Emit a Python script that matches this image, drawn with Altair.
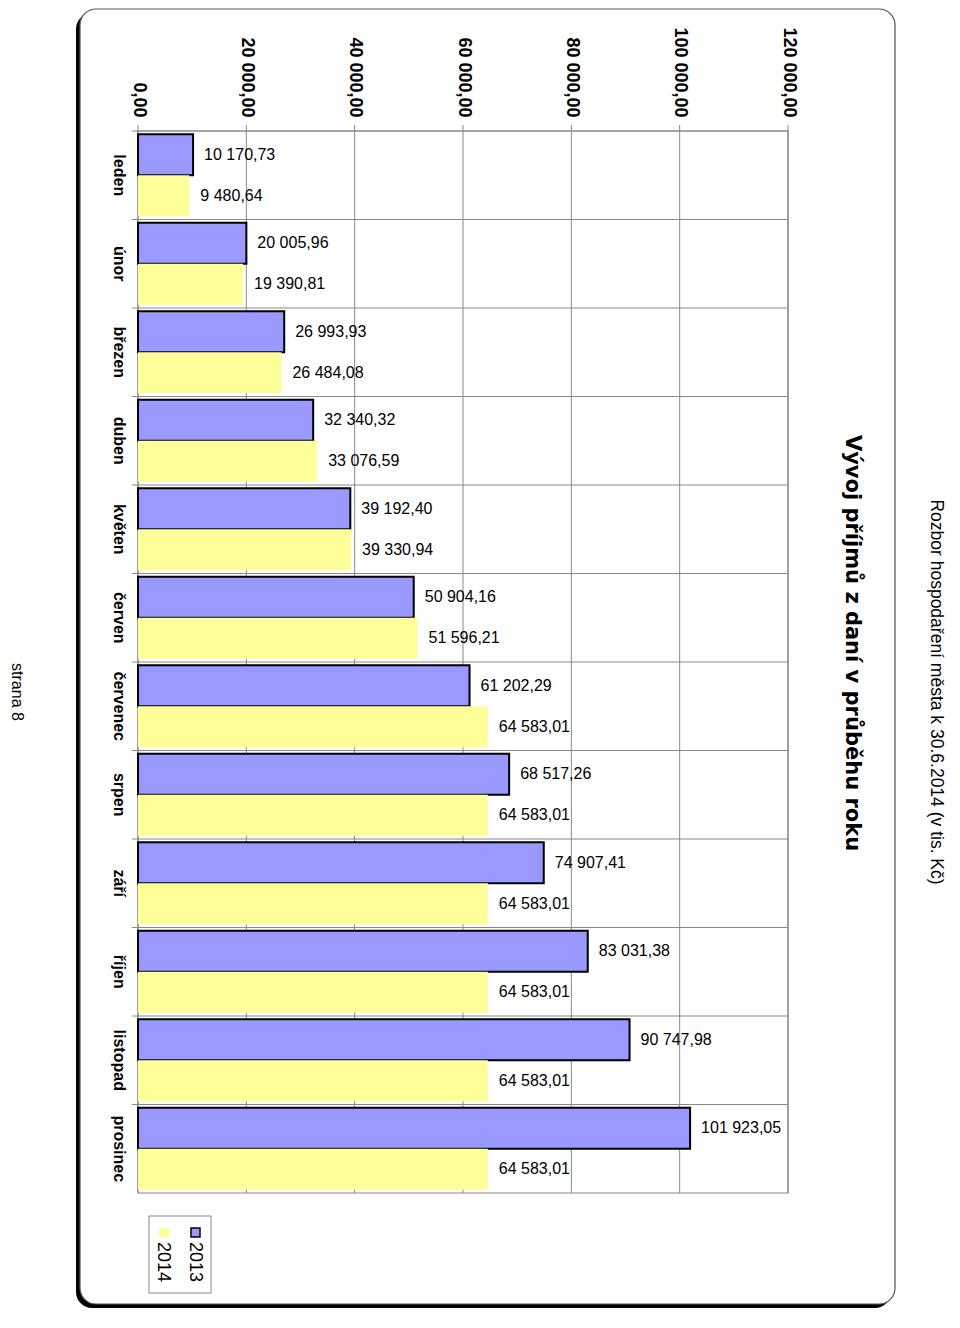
import altair as alt
import pandas as pd

months = ["leden", "únor", "březen", "duben", "květen", "červen",
          "červenec", "srpen", "září", "říjen", "listopad", "prosinec"]
v2013 = [10170.73, 20005.96, 26993.93, 32340.32, 39192.40, 50904.16,
         61202.29, 68517.26, 74907.41, 83031.38, 90747.98, 101923.05]
v2014 = [9480.64, 19390.81, 26484.08, 33076.59, 39330.94, 51596.21,
         64583.01, 64583.01, 64583.01, 64583.01, 64583.01, 64583.01]
years = ["2013", "2014"]
colors = ["#9999FF", "#FFFF99"]
x_ticks = [0, 20000, 40000, 60000, 80000, 100000, 120000]

title_text = "Vývoj příjmů z daní v průběhu roku"
subtitle_text = "Rozbor hospodaření města k 30.6.2014 (v tis. Kč)"
page_text = "strana 8"

rows = []
for m, a, b in zip(months, v2013, v2014):
    rows.append({"month": m, "year": "2013", "value": a})
    rows.append({"month": m, "year": "2014", "value": b})
df = pd.DataFrame(rows)
df["label"] = df["value"].map(lambda v: f"{v:,.2f}".replace(",", " ").replace(".", ","))

W, H = 650, 1062
FONT = "Liberation Sans"
GRID = "#888888"

x_axis = alt.Axis(orient="top", values=x_ticks, title=None, labelAngle=90,
                  labelAlign="right", labelBaseline="middle", labelFont=FONT,
                  labelFontWeight="bold", labelFontSize=18, labelColor="black",
                  labelPadding=14, ticks=False, domain=False, grid=False,
                  labelFlush=False, labelOverlap=False, zindex=1,
                  labelExpr="replace(replace(format(datum.value, ',.2f'), ',', ' '), '.', ',')")
y_axis = alt.Axis(title=None, labelAngle=90, labelAlign="center", labelBaseline="top",
                  labelFont=FONT, labelFontWeight="bold", labelFontSize=16,
                  labelColor="black", labelPadding=12, ticks=False, domain=False,
                  grid=False, zindex=1)

x_scale = alt.Scale(domain=[0, 120000], nice=False, zero=True)
y_scale = alt.Scale(paddingInner=0, paddingOuter=0)


def X(**kw):
    return alt.X("value:Q", scale=x_scale, axis=x_axis, **kw)


def Y(**kw):
    return alt.Y("month:N", sort=months, scale=y_scale, axis=y_axis, **kw)


yoff = alt.YOffset("year:N", sort=years, scale=alt.Scale(paddingOuter=0.08, paddingInner=0))

one = pd.DataFrame({"k": [0]})

shadow = alt.Chart(one).mark_rect(fill="black", cornerRadius=16).encode(
    x=alt.value(-62), x2=alt.value(753), y=alt.value(-118), y2=alt.value(1177))
box = alt.Chart(one).mark_rect(fill="white", stroke="#555555", strokeWidth=1.2, cornerRadius=16).encode(
    x=alt.value(-58), x2=alt.value(757), y=alt.value(-122), y2=alt.value(1173))
plot_border = alt.Chart(one).mark_rect(fillOpacity=0, stroke=GRID, strokeWidth=1.2).encode(
    x=alt.value(0), x2=alt.value(W), y=alt.value(0), y2=alt.value(H))

vgrid = alt.Chart(pd.DataFrame({"value": x_ticks})).mark_rule(color=GRID, strokeWidth=1).encode(
    x=X(), y=alt.value(-6), y2=alt.value(H))
hgrid = alt.Chart(pd.DataFrame({"month": months})).mark_rule(color=GRID, strokeWidth=1).encode(
    y=Y(bandPosition=0), x=alt.value(-6), x2=alt.value(W))

bars = alt.Chart(df).mark_bar(strokeWidth=2).encode(
    x=X(), y=Y(), yOffset=yoff,
    color=alt.Color("year:N", scale=alt.Scale(domain=years, range=colors), legend=None),
    stroke=alt.Stroke("year:N", scale=alt.Scale(domain=years, range=["#000000", "transparent"]), legend=None),
)
labels = alt.Chart(df).mark_text(align="left", baseline="middle", dx=11, font=FONT,
                                 fontSize=16, color="black").encode(
    x=X(), y=Y(), yOffset=yoff, text="label:N")


def txt(s, x, y, size, bold=False, font=FONT, align="center"):
    return alt.Chart(pd.DataFrame({"t": [s]})).mark_text(
        angle=90, align=align, baseline="middle", fontSize=size,
        fontWeight="bold" if bold else "normal", font=font, color="black").encode(
        x=alt.value(x), y=alt.value(y), text="t:N")


title = txt(title_text, 714, 512, 21, bold=True, font="DejaVu Sans")
subtitle = txt(subtitle_text, 798, 561, 17.5)
page = txt(page_text, -121, 561, 16)

leg_box = alt.Chart(one).mark_rect(fill="white", stroke="#888888", strokeWidth=1).encode(
    x=alt.value(11), x2=alt.value(73), y=alt.value(1085), y2=alt.value(1162))
leg_sw13 = alt.Chart(one).mark_rect(fill=colors[0], stroke="black", strokeWidth=1.5).encode(
    x=alt.value(53), x2=alt.value(62), y=alt.value(1097), y2=alt.value(1106))
leg_sw14 = alt.Chart(one).mark_rect(fill=colors[1]).encode(
    x=alt.value(21), x2=alt.value(31), y=alt.value(1097), y2=alt.value(1106))
leg_t13 = txt(years[0], 57, 1111, 18, align="left")
leg_t14 = txt(years[1], 25, 1111, 18, align="left")

chart = alt.layer(
    shadow, box, plot_border, vgrid, hgrid, bars, labels,
    title, subtitle, page, leg_box, leg_sw13, leg_sw14, leg_t13, leg_t14,
).properties(
    width=W, height=H,
    autosize=alt.AutoSizeParams(type="none"),
    padding={"left": 130, "top": 123, "right": 162, "bottom": 118},
    background="white",
).configure_view(strokeWidth=0)

chart.save("out.html", embed_options={"renderer": "svg", "actions": False})
